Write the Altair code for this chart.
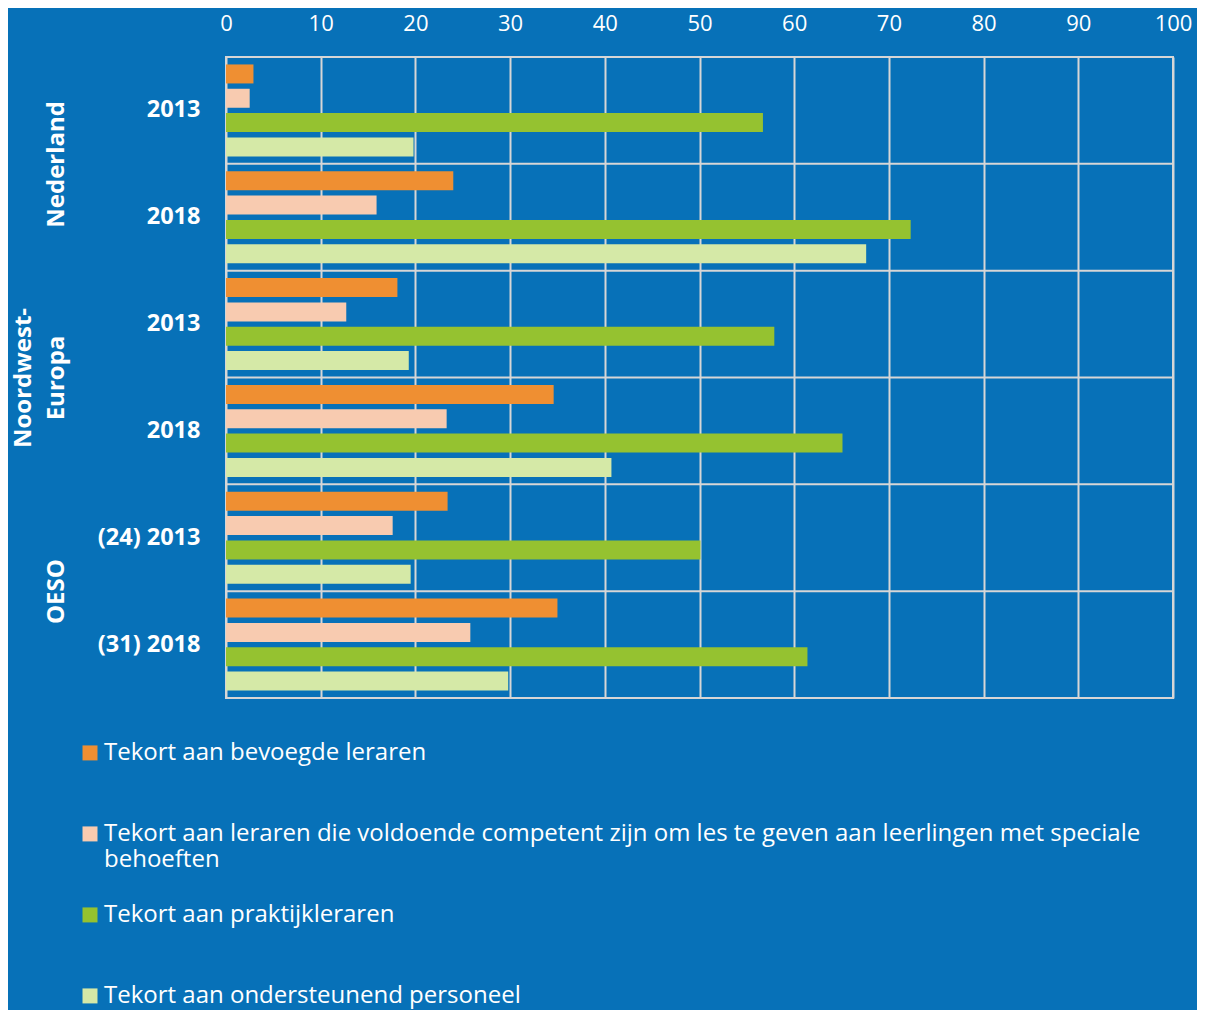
import altair as alt
import pandas as pd

# ---- data ----
groups = ["Nederland", "Noordwest-Europa", "OESO"]
row_groups = ["Nederland", "Nederland", "Noordwest-Europa", "Noordwest-Europa", "OESO", "OESO"]
row_labels = ["2013", "2018", "2013", "2018", "(24) 2013", "(31) 2018"]
series = [
    "Tekort aan bevoegde leraren",
    "Tekort aan leraren die voldoende competent zijn om les te geven aan leerlingen met speciale\nbehoeften",
    "Tekort aan praktijkleraren",
    "Tekort aan ondersteunend personeel",
]
bevoegd = [2.9, 24.0, 18.1, 34.6, 23.4, 35.0]
speciaal = [2.5, 15.9, 12.7, 23.3, 17.6, 25.8]
praktijk = [56.7, 72.3, 57.9, 65.1, 50.1, 61.4]
ondersteunend = [19.8, 67.6, 19.3, 40.7, 19.5, 29.8]
x_ticks = list(range(0, 101, 10))

# ---- styles ----
colors = ["#ef8f32", "#f8cbb0", "#95c230", "#d5e9a7"]
BG = "#0771b8"
GRID = "#d6d6d6"
FONT = "Open Sans"

row_order = [g + " " + l for g, l in zip(row_groups, row_labels)]
rows_df = pd.DataFrame({"row": row_order})
records = []
for i, key in enumerate(row_order):
    for s, vals in zip(series, [bevoegd, speciaal, praktijk, ondersteunend]):
        records.append({"row": key, "series": s, "value": vals[i]})
bars_df = pd.DataFrame(records)
groups_df = pd.DataFrame({"group": groups})

band0 = alt.Scale(paddingInner=0, paddingOuter=0)

x_enc = alt.X(
    "value:Q",
    stack=None,
    scale=alt.Scale(domain=[0, 100], nice=False),
    axis=alt.Axis(
        orient="top", values=x_ticks, grid=True, gridColor=GRID, gridWidth=2,
        domain=False, ticks=False, tickSize=0, labelFontSize=22, labelColor="white",
        labelFont=FONT, labelPadding=22, labelFlush=False, title=None,
    ),
)

legend = alt.Legend(
    title=None, orient="none", legendX=-148, legendY=672, direction="vertical",
    symbolType="M-1,0.59H1V2.59H-1Z", symbolSize=225, symbolStrokeWidth=0,
    labelFontSize=24, labelFont=FONT, labelColor="white", labelLimit=1200,
    labelOffset=2, labelBaseline="top", rowPadding=19,
    padding=0,
    labelExpr="indexof(datum.label, '\\n') >= 0 ? split(datum.label, '\\n') : [datum.label, '']",
)

rules = alt.Chart(rows_df).mark_rule(color=GRID, strokeWidth=2).encode(
    y=alt.Y("row:N", sort=row_order, bandPosition=0, scale=band0, axis=None)
)

bars = alt.Chart(bars_df).mark_bar().encode(
    x=x_enc,
    y=alt.Y(
        "row:N", sort=row_order, scale=band0,
        axis=alt.Axis(
            orient="left", domain=False, ticks=False, tickSize=0, grid=False,
            labelExpr="slice(datum.label, indexof(datum.label, ' ') + 1)",
            labelFontSize=23.5, labelFontWeight="bold", labelColor="white",
            labelFont=FONT, labelPadding=26, title=None,
        ),
    ),
    yOffset=alt.YOffset("series:N", sort=series,
                        scale=alt.Scale(paddingInner=0.218, paddingOuter=0.306)),
    color=alt.Color("series:N", scale=alt.Scale(domain=series, range=colors), legend=legend),
)

grp = alt.Chart(groups_df).mark_text(text="").encode(
    y=alt.Y(
        "group:N", sort=groups, scale=band0,
        axis=alt.Axis(
            orient="left", domain=False, ticks=False, tickSize=0, grid=False,
            labelAngle=270, labelAlign="center", labelBaseline="bottom",
            labelExpr="indexof(datum.label, '-') >= 0 ? split(replace(datum.label, '-', '-|'), '|') : ['', datum.label]",
            labelLineHeight=33, labelFontSize=24, labelFontWeight="bold",
            labelColor="white", labelFont=FONT, labelPadding=191, title=None,
        ),
    )
)

chart = (
    alt.layer(rules, bars, grp)
    .resolve_scale(y="independent")
    .properties(
        width=947, height=641,
        autosize=alt.AutoSizeParams(type="none"),
        padding={"left": 218, "top": 49, "right": 24, "bottom": 312},
    )
    .configure(background=BG, font=FONT)
    .configure_view(stroke=GRID, strokeWidth=2)
)

chart.save("out.html", embed_options={"renderer": "svg", "actions": False})
